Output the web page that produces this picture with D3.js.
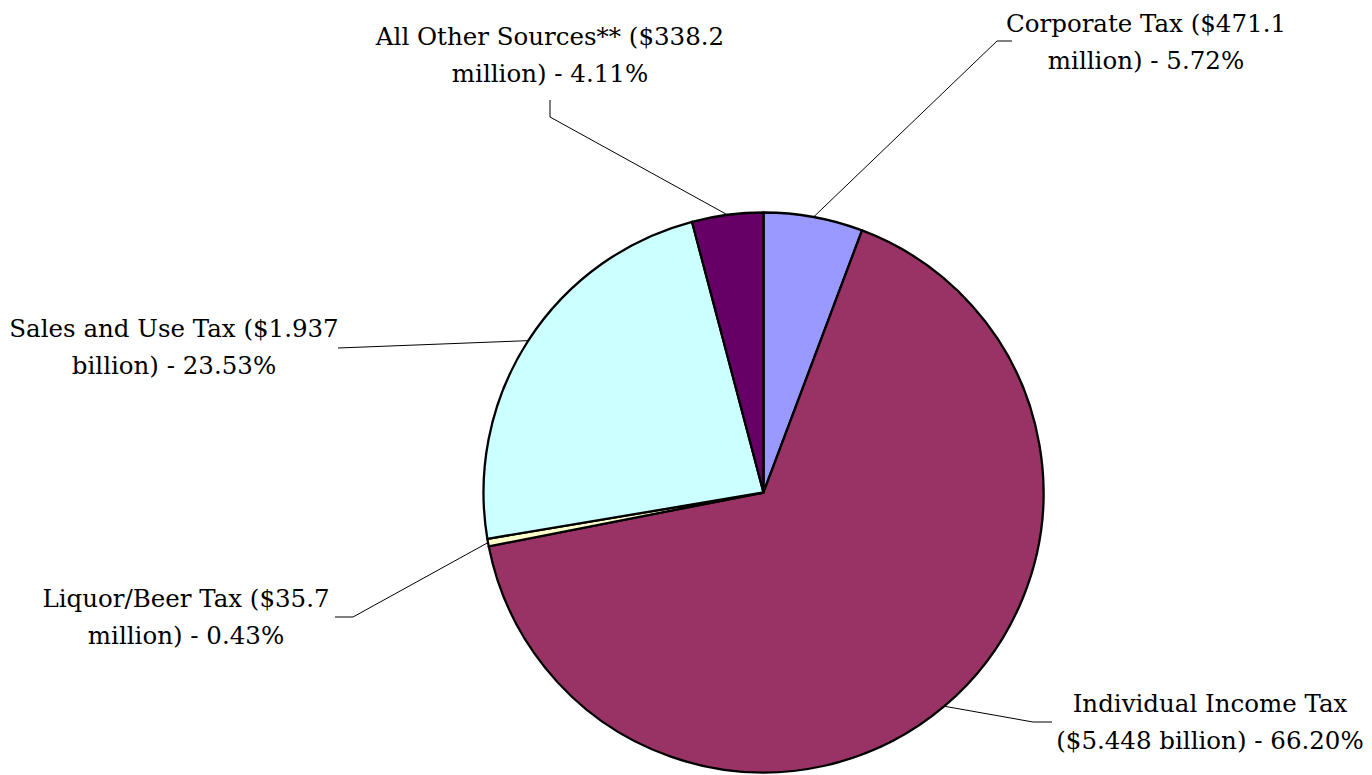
<!DOCTYPE html>
<html>
<head>
<meta charset="utf-8">
<script src="https://cdn.jsdelivr.net/npm/d3@7"></script>
<style>
  html, body { margin: 0; padding: 0; background: #fff; }
  svg { display: block; }
</style>
</head>
<body>
<svg id="chart" width="1372" height="775"></svg>
<script>
// Data (millions of dollars), clockwise from 12 o'clock
const categories = ["Corporate Tax", "Individual Income Tax", "Liquor/Beer Tax", "Sales and Use Tax", "All Other Sources**"];
const values = [471.1, 5448, 35.7, 1937, 338.2];
const labelLine1 = ["Corporate Tax ($471.1", "Individual Income Tax", "Liquor/Beer Tax ($35.7", "Sales and Use Tax ($1.937", "All Other Sources** ($338.2"];
const labelLine2 = ["million) - 5.72%", "($5.448 billion) - 66.20%", "million) - 0.43%", "billion) - 23.53%", "million) - 4.11%"];
const colors = ["#9999FF", "#993366", "#FFFFCC", "#CCFFFF", "#660066"];

// Layout (label anchors and leader elbows)
const cx = 763.5, cy = 492.5, R = 280;
const labelPos = [
  { x: 1146, y: 32,  pts: [[997, 41], [1012, 41]] },
  { x: 1210, y: 712, pts: [[1033, 722], [1052, 722]] },
  { x: 186,  y: 607, pts: [[353, 617], [335, 617]] },
  { x: 174,  y: 337, pts: [[338, 348]] },
  { x: 550,  y: 45,  pts: [[550, 117], [550, 100]] }
];

const svg = d3.select("#chart");
const g = svg.append("g").attr("transform", `translate(${cx},${cy})`);

const pie = d3.pie().sort(null).value(d => d);
const arcs = pie(values);
const arc = d3.arc().innerRadius(0).outerRadius(R);

g.selectAll("path.slice")
  .data(arcs)
  .join("path")
  .attr("class", "slice")
  .attr("d", arc)
  .attr("fill", (d, i) => colors[i])
  .attr("stroke", "#000")
  .attr("stroke-width", 2.3)
  .attr("stroke-linejoin", "round");

// leader lines
const line = d3.line();
arcs.forEach((d, i) => {
  const mid = (d.startAngle + d.endAngle) / 2;
  const p0 = [cx + R * Math.sin(mid), cy - R * Math.cos(mid)];
  const pts = [p0].concat(labelPos[i].pts);
  svg.append("path")
    .attr("d", line(pts))
    .attr("fill", "none")
    .attr("stroke", "#000")
    .attr("stroke-width", 1);
});

// labels
categories.forEach((c, i) => {
  const t = svg.append("text")
    .attr("x", labelPos[i].x)
    .attr("y", labelPos[i].y)
    .attr("text-anchor", "middle")
    .style("font-family", "'DejaVu Serif', 'Liberation Serif', serif")
    .style("font-size", "24.5px")
    .attr("fill", "#000");
  t.append("tspan").attr("x", labelPos[i].x).text(labelLine1[i]);
  t.append("tspan").attr("x", labelPos[i].x).attr("dy", 36.5).text(labelLine2[i]);
});
</script>
</body>
</html>
